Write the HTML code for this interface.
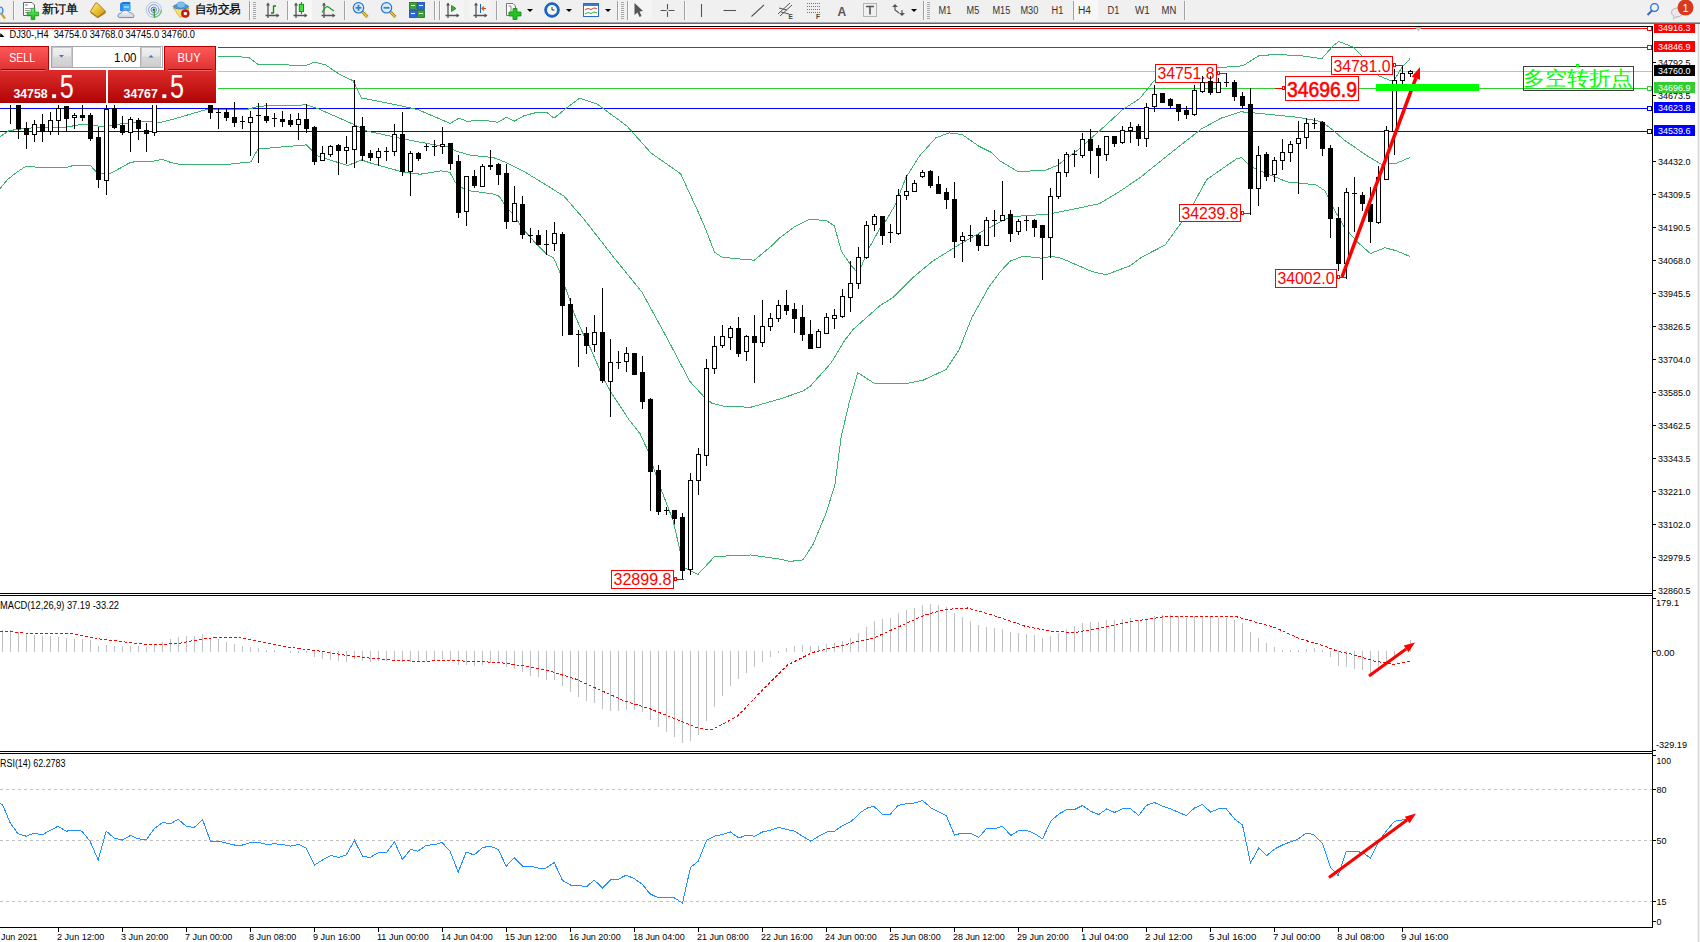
<!DOCTYPE html>
<html><head><meta charset="utf-8"><style>
html,body{margin:0;padding:0;width:1700px;height:942px;overflow:hidden;background:#fff;font-family:"Liberation Sans", sans-serif;}
.abs{position:absolute}
</style></head><body>
<div class="abs" style="left:0;top:0;width:1700px;height:942px;">
<svg width="1700" height="942" style="position:absolute;left:0;top:0"><defs><clipPath id="cm"><rect x="0" y="27" width="1652" height="566"/></clipPath><clipPath id="cmacd"><rect x="0" y="596" width="1652" height="155"/></clipPath><clipPath id="crsi"><rect x="0" y="754" width="1652" height="173"/></clipPath></defs><g clip-path="url(#cm)"><g shape-rendering="crispEdges" stroke-width="1"><line x1="0" y1="28.5" x2="1647" y2="28.5" stroke="#ff0000"/><line x1="0" y1="47.5" x2="1647" y2="47.5" stroke="#ff0000"/><line x1="0" y1="71.5" x2="1652" y2="71.5" stroke="#c0c0c0"/><line x1="0" y1="88.5" x2="1647" y2="88.5" stroke="#32cd32"/><line x1="0" y1="108.5" x2="1647" y2="108.5" stroke="#0000ff"/><line x1="0" y1="131.5" x2="1647" y2="131.5" stroke="#0000ff"/></g><rect x="1647.5" y="26.5" width="4" height="4" fill="#fff" stroke="#ff0000" shape-rendering="crispEdges"/><rect x="1647.5" y="45.5" width="4" height="4" fill="#fff" stroke="#ff0000" shape-rendering="crispEdges"/><rect x="1647.5" y="86.5" width="4" height="4" fill="#fff" stroke="#32cd32" shape-rendering="crispEdges"/><rect x="1647.5" y="106.5" width="4" height="4" fill="#fff" stroke="#0000ff" shape-rendering="crispEdges"/><rect x="1647.5" y="129.5" width="4" height="4" fill="#fff" stroke="#0000ff" shape-rendering="crispEdges"/><polyline points="216.0,56.6 248.4,57.1 258.0,64.3 306.3,65.4 314.6,62.1 325.6,64.8 339.5,74.5 353.2,80.8 361.5,98.0 386.4,102.9 402.9,106.2 418.9,110.0 450.0,123.4 459.0,118.2 466.4,121.1 487.2,120.7 497.6,122.2 506.5,117.4 514.7,121.1 524.3,115.6 537.7,112.2 546.6,112.2 554.0,118.2 564.0,110.0 579.5,98.2 597.4,104.2 627.1,126.2 650.9,152.9 680.6,173.7 698.4,212.4 706.0,230.0 714.4,252.0 722.0,257.2 739.0,258.9 754.4,260.2 771.3,246.1 780.0,237.7 794.7,226.7 809.3,219.3 826.4,220.5 834.3,225.8 841.5,251.6 850.0,264.0 855.8,270.7 861.5,265.9 869.2,247.8 879.7,228.7 885.4,221.5 895.9,203.8 905.7,178.0 919.5,155.9 935.9,137.8 949.0,132.9 962.2,134.5 978.7,146.1 991.8,152.6 1000.0,161.0 1017.2,171.2 1044.0,170.8 1057.4,165.4 1076.5,151.1 1099.4,131.0 1122.3,110.0 1140.0,98.3 1154.4,80.3 1168.9,70.0 1206.6,68.5 1242.8,65.8 1258.7,55.8 1275.9,54.4 1301.7,55.8 1321.7,58.7 1333.2,45.8 1338.9,41.5 1353.2,47.2 1364.7,58.7 1379.0,75.9 1393.4,81.6 1402.0,67.3 1410.0,58.7" fill="none" stroke="#3cb371" stroke-width="1" shape-rendering="crispEdges"/><polyline points="0.0,136.7 9.2,130.6 26.0,128.3 45.9,127.2 65.8,127.2 82.6,124.2 91.8,125.2 104.0,126.8 116.3,124.5 130.0,122.9 145.3,121.4 159.1,122.6 168.2,120.6 206.5,109.5 247.8,109.2 260.0,106.1 306.3,104.9 317.4,108.4 353.2,124.2 367.0,131.1 404.0,139.0 430.7,144.2 448.6,147.1 457.5,151.6 470.9,155.3 493.1,157.5 505.0,162.0 522.9,170.9 545.1,184.3 564.0,196.2 584.6,220.0 614.4,258.2 642.0,292.2 667.5,339.0 690.0,381.5 703.5,396.3 711.8,403.2 722.9,406.0 750.5,407.3 780.0,399.0 803.0,391.0 810.6,385.9 831.0,363.0 845.0,340.0 853.3,329.3 880.0,305.6 893.2,297.4 912.9,277.6 932.6,261.2 959.0,244.7 982.0,231.6 1010.0,216.8 1047.8,214.2 1076.5,208.5 1099.4,203.7 1118.5,192.2 1140.0,177.7 1158.0,163.2 1176.0,148.8 1201.3,129.0 1221.2,118.1 1241.0,111.8 1251.8,112.7 1298.8,117.4 1321.7,121.7 1333.2,130.3 1344.6,140.3 1367.6,156.1 1381.9,164.7 1396.2,163.3 1410.0,157.5" fill="none" stroke="#3cb371" stroke-width="1" shape-rendering="crispEdges"/><polyline points="0.0,188.7 7.6,179.5 15.3,173.4 26.0,166.1 38.2,167.3 67.3,167.3 73.4,165.4 90.2,165.4 97.9,173.4 110.1,173.4 116.3,170.3 130.0,162.7 137.6,161.2 152.9,161.2 162.1,159.3 171.3,162.7 178.9,164.2 229.4,164.2 250.8,161.9 258.0,149.0 306.3,144.9 317.4,155.9 347.7,165.6 361.5,160.0 369.8,162.8 404.0,172.4 420.3,174.2 441.1,170.9 450.0,172.4 454.5,181.3 460.5,187.3 470.9,191.0 493.1,193.9 499.1,196.2 505.0,205.1 514.0,215.5 522.9,228.9 534.7,242.2 546.4,254.0 553.8,258.2 560.2,273.1 566.6,291.2 575.0,315.6 582.5,332.6 591.0,349.6 597.4,364.5 603.7,379.3 612.2,394.2 620.7,407.0 629.2,420.0 640.0,433.6 648.3,451.5 659.3,484.7 673.1,520.6 681.4,556.5 684.2,567.5 698.0,574.4 714.6,556.5 750.5,555.0 780.0,559.2 790.2,561.4 803.0,559.9 813.2,544.1 825.9,513.5 834.8,485.4 841.2,436.9 848.9,403.8 857.8,372.7 874.4,383.4 906.3,383.6 922.8,380.3 945.8,369.7 959.0,350.0 972.1,317.1 988.6,287.5 1000.0,272.0 1010.0,261.2 1022.9,256.2 1042.0,258.2 1051.6,256.2 1061.2,258.2 1091.8,271.5 1106.1,274.8 1130.0,265.8 1141.5,257.2 1165.0,245.1 1188.8,212.4 1206.6,179.7 1236.4,158.9 1241.5,157.5 1250.0,166.1 1258.7,170.4 1287.3,181.9 1316.0,184.8 1324.6,190.5 1333.2,207.7 1344.6,227.8 1359.0,243.5 1370.4,253.6 1384.8,247.8 1396.2,250.7 1410.0,256.4" fill="none" stroke="#3cb371" stroke-width="1" shape-rendering="crispEdges"/><g font-family='"Liberation Sans", sans-serif'><rect x="1155.5" y="64.5" width="61" height="18" fill="#fff" stroke="#ff0000" shape-rendering="crispEdges"/><text x="1186.0" y="79.3" font-size="16" fill="#ff0000" font-weight="normal" text-anchor="middle" textLength="57" lengthAdjust="spacingAndGlyphs">34751.8</text><polyline points="1217,73.5 1226.5,73.5 1226.5,76" fill="none" stroke="#ff0000" shape-rendering="crispEdges"/><rect x="1217.5" y="71.5" width="2" height="3" fill="#fff" stroke="#ff0000" shape-rendering="crispEdges"/><rect x="1179.5" y="204.5" width="61" height="17" fill="#fff" stroke="#ff0000" shape-rendering="crispEdges"/><text x="1210.0" y="218.8" font-size="16" fill="#ff0000" font-weight="normal" text-anchor="middle" textLength="57" lengthAdjust="spacingAndGlyphs">34239.8</text><polyline points="1241,213.5 1250.5,213.5" fill="none" stroke="#ff0000" shape-rendering="crispEdges"/><rect x="1241.5" y="211.5" width="2" height="3" fill="#fff" stroke="#ff0000" shape-rendering="crispEdges"/><rect x="1275.5" y="269.5" width="61" height="18" fill="#fff" stroke="#ff0000" shape-rendering="crispEdges"/><text x="1306.0" y="284.3" font-size="16" fill="#ff0000" font-weight="normal" text-anchor="middle" textLength="57" lengthAdjust="spacingAndGlyphs">34002.0</text><polyline points="1337,277.5 1346.5,277.5" fill="none" stroke="#ff0000" shape-rendering="crispEdges"/><rect x="1337.5" y="275.5" width="2" height="3" fill="#fff" stroke="#ff0000" shape-rendering="crispEdges"/><rect x="1331.5" y="56.5" width="61" height="18" fill="#fff" stroke="#ff0000" shape-rendering="crispEdges"/><text x="1362.0" y="71.6" font-size="17" fill="#ff0000" font-weight="normal" text-anchor="middle" textLength="57" lengthAdjust="spacingAndGlyphs">34781.0</text><polyline points="1393,65.5 1402.5,65.5" fill="none" stroke="#ff0000" shape-rendering="crispEdges"/><rect x="1393.5" y="63.5" width="2" height="3" fill="#fff" stroke="#ff0000" shape-rendering="crispEdges"/><rect x="1285.5" y="76.5" width="73" height="24" fill="#fff" stroke="#ff0000" shape-rendering="crispEdges"/><text x="1322.0" y="96.6" font-size="22.5" fill="#ff0000" font-weight="normal" stroke="#ff0000" stroke-width="0.6" text-anchor="middle" textLength="70" lengthAdjust="spacingAndGlyphs">34696.9</text><line x1="1275" y1="88.5" x2="1285" y2="88.5" stroke="#ff0000" shape-rendering="crispEdges"/><rect x="1282.5" y="86.5" width="2" height="3" fill="#fff" stroke="#ff0000" shape-rendering="crispEdges"/><rect x="611.5" y="570.5" width="62" height="18" fill="#fff" stroke="#ff0000" shape-rendering="crispEdges"/><text x="642.5" y="585.3" font-size="16" fill="#ff0000" font-weight="normal" text-anchor="middle" textLength="58" lengthAdjust="spacingAndGlyphs">32899.8</text><polyline points="674,579.5 683.5,579.5" fill="none" stroke="#ff0000" shape-rendering="crispEdges"/><rect x="674.5" y="577.5" width="2" height="3" fill="#fff" stroke="#ff0000" shape-rendering="crispEdges"/></g><g shape-rendering="crispEdges"><rect x="10" y="104" width="1" height="20" fill="#000"/><rect x="18" y="103" width="1" height="36" fill="#000"/><rect x="16" y="103" width="5" height="26" fill="#000"/><rect x="26" y="122" width="1" height="27" fill="#000"/><rect x="24" y="128" width="5" height="7" fill="#000"/><rect x="34" y="120" width="1" height="22" fill="#000"/><rect x="32.5" y="124.5" width="4" height="10" fill="#fff" stroke="#000" stroke-width="1"/><rect x="42" y="114" width="1" height="28" fill="#000"/><rect x="40" y="124" width="5" height="8" fill="#000"/><rect x="50" y="112" width="1" height="23" fill="#000"/><rect x="48.5" y="120.5" width="4" height="11" fill="#fff" stroke="#000" stroke-width="1"/><rect x="58" y="105" width="1" height="30" fill="#000"/><rect x="56.5" y="108.5" width="4" height="12" fill="#fff" stroke="#000" stroke-width="1"/><rect x="66" y="106" width="1" height="26" fill="#000"/><rect x="64" y="106" width="5" height="13" fill="#000"/><rect x="74" y="113" width="1" height="16" fill="#000"/><rect x="72.5" y="115.5" width="4" height="2" fill="#fff" stroke="#000" stroke-width="1"/><rect x="82" y="105" width="1" height="16" fill="#000"/><rect x="80" y="115" width="5" height="3" fill="#000"/><rect x="90" y="113" width="1" height="28" fill="#000"/><rect x="88" y="115" width="5" height="24" fill="#000"/><rect x="98" y="127" width="1" height="61" fill="#000"/><rect x="96" y="137" width="5" height="43" fill="#000"/><rect x="106" y="103" width="1" height="92" fill="#000"/><rect x="104.5" y="109.5" width="4" height="71" fill="#fff" stroke="#000" stroke-width="1"/><rect x="114" y="103" width="1" height="26" fill="#000"/><rect x="112" y="108" width="5" height="20" fill="#000"/><rect x="122" y="116" width="1" height="19" fill="#000"/><rect x="120" y="125" width="5" height="8" fill="#000"/><rect x="130" y="117" width="1" height="35" fill="#000"/><rect x="128.5" y="119.5" width="4" height="13" fill="#fff" stroke="#000" stroke-width="1"/><rect x="138" y="118" width="1" height="22" fill="#000"/><rect x="136" y="120" width="5" height="9" fill="#000"/><rect x="146" y="123" width="1" height="29" fill="#000"/><rect x="144" y="130" width="5" height="4" fill="#000"/><rect x="154" y="103" width="1" height="33" fill="#000"/><rect x="152.5" y="103.5" width="4" height="29" fill="#fff" stroke="#000" stroke-width="1"/><rect x="210" y="103" width="1" height="16" fill="#000"/><rect x="208" y="103" width="5" height="10" fill="#000"/><rect x="218" y="108" width="1" height="21" fill="#000"/><rect x="216" y="112" width="5" height="1" fill="#000"/><rect x="226" y="109" width="1" height="12" fill="#000"/><rect x="224" y="112" width="5" height="6" fill="#000"/><rect x="234" y="102" width="1" height="25" fill="#000"/><rect x="232" y="117" width="5" height="6" fill="#000"/><rect x="242" y="116" width="1" height="13" fill="#000"/><rect x="240" y="121" width="5" height="1" fill="#000"/><rect x="250" y="111" width="1" height="45" fill="#000"/><rect x="248.5" y="117.5" width="4" height="5" fill="#fff" stroke="#000" stroke-width="1"/><rect x="258" y="103" width="1" height="60" fill="#000"/><rect x="256" y="115" width="5" height="1" fill="#000"/><rect x="266" y="103" width="1" height="20" fill="#000"/><rect x="264" y="116" width="5" height="5" fill="#000"/><rect x="274" y="113" width="1" height="14" fill="#000"/><rect x="272" y="118" width="5" height="1" fill="#000"/><rect x="282" y="111" width="1" height="16" fill="#000"/><rect x="280" y="119" width="5" height="3" fill="#000"/><rect x="290" y="114" width="1" height="13" fill="#000"/><rect x="288" y="120" width="5" height="5" fill="#000"/><rect x="298" y="113" width="1" height="27" fill="#000"/><rect x="296.5" y="119.5" width="4" height="5" fill="#fff" stroke="#000" stroke-width="1"/><rect x="306" y="104" width="1" height="29" fill="#000"/><rect x="304" y="119" width="5" height="10" fill="#000"/><rect x="314" y="126" width="1" height="39" fill="#000"/><rect x="312" y="127" width="5" height="35" fill="#000"/><rect x="322" y="146" width="1" height="15" fill="#000"/><rect x="320.5" y="153.5" width="4" height="7" fill="#fff" stroke="#000" stroke-width="1"/><rect x="330" y="145" width="1" height="12" fill="#000"/><rect x="328.5" y="146.5" width="4" height="8" fill="#fff" stroke="#000" stroke-width="1"/><rect x="338" y="144" width="1" height="31" fill="#000"/><rect x="336" y="145" width="5" height="6" fill="#000"/><rect x="346" y="136" width="1" height="28" fill="#000"/><rect x="344.5" y="147.5" width="4" height="3" fill="#fff" stroke="#000" stroke-width="1"/><rect x="354" y="80" width="1" height="88" fill="#000"/><rect x="352.5" y="126.5" width="4" height="23" fill="#fff" stroke="#000" stroke-width="1"/><rect x="362" y="117" width="1" height="44" fill="#000"/><rect x="360" y="126" width="5" height="30" fill="#000"/><rect x="370" y="150" width="1" height="11" fill="#000"/><rect x="368" y="153" width="5" height="5" fill="#000"/><rect x="378" y="148" width="1" height="18" fill="#000"/><rect x="376.5" y="151.5" width="4" height="6" fill="#fff" stroke="#000" stroke-width="1"/><rect x="386" y="147" width="1" height="14" fill="#000"/><rect x="384" y="151" width="5" height="1" fill="#000"/><rect x="394" y="124" width="1" height="32" fill="#000"/><rect x="392.5" y="134.5" width="4" height="17" fill="#fff" stroke="#000" stroke-width="1"/><rect x="402" y="112" width="1" height="64" fill="#000"/><rect x="400" y="134" width="5" height="38" fill="#000"/><rect x="410" y="151" width="1" height="45" fill="#000"/><rect x="408.5" y="153.5" width="4" height="18" fill="#fff" stroke="#000" stroke-width="1"/><rect x="418" y="152" width="1" height="9" fill="#000"/><rect x="416" y="153" width="5" height="6" fill="#000"/><rect x="426" y="144" width="1" height="7" fill="#000"/><rect x="424" y="146" width="5" height="1" fill="#000"/><rect x="434" y="140" width="1" height="16" fill="#000"/><rect x="432" y="146" width="5" height="1" fill="#000"/><rect x="442" y="127" width="1" height="27" fill="#000"/><rect x="440.5" y="144.5" width="4" height="2" fill="#fff" stroke="#000" stroke-width="1"/><rect x="450" y="143" width="1" height="27" fill="#000"/><rect x="448" y="143" width="5" height="21" fill="#000"/><rect x="458" y="155" width="1" height="63" fill="#000"/><rect x="456" y="161" width="5" height="52" fill="#000"/><rect x="466" y="176" width="1" height="50" fill="#000"/><rect x="464.5" y="176.5" width="4" height="35" fill="#fff" stroke="#000" stroke-width="1"/><rect x="474" y="170" width="1" height="18" fill="#000"/><rect x="472" y="176" width="5" height="10" fill="#000"/><rect x="482" y="164" width="1" height="23" fill="#000"/><rect x="480.5" y="166.5" width="4" height="20" fill="#fff" stroke="#000" stroke-width="1"/><rect x="490" y="150" width="1" height="20" fill="#000"/><rect x="488" y="165" width="5" height="2" fill="#000"/><rect x="498" y="163" width="1" height="22" fill="#000"/><rect x="496" y="164" width="5" height="11" fill="#000"/><rect x="506" y="164" width="1" height="65" fill="#000"/><rect x="504" y="173" width="5" height="49" fill="#000"/><rect x="514" y="186" width="1" height="36" fill="#000"/><rect x="512.5" y="203.5" width="4" height="18" fill="#fff" stroke="#000" stroke-width="1"/><rect x="522" y="196" width="1" height="43" fill="#000"/><rect x="520" y="204" width="5" height="31" fill="#000"/><rect x="530" y="228" width="1" height="15" fill="#000"/><rect x="528" y="235" width="5" height="1" fill="#000"/><rect x="538" y="230" width="1" height="15" fill="#000"/><rect x="536" y="235" width="5" height="10" fill="#000"/><rect x="546" y="230" width="1" height="25" fill="#000"/><rect x="544" y="244" width="5" height="1" fill="#000"/><rect x="554" y="222" width="1" height="29" fill="#000"/><rect x="552.5" y="233.5" width="4" height="10" fill="#fff" stroke="#000" stroke-width="1"/><rect x="562" y="232" width="1" height="104" fill="#000"/><rect x="560" y="234" width="5" height="72" fill="#000"/><rect x="570" y="298" width="1" height="37" fill="#000"/><rect x="568" y="304" width="5" height="31" fill="#000"/><rect x="578" y="330" width="1" height="37" fill="#000"/><rect x="576" y="334" width="5" height="1" fill="#000"/><rect x="586" y="327" width="1" height="27" fill="#000"/><rect x="584" y="333" width="5" height="13" fill="#000"/><rect x="594" y="315" width="1" height="37" fill="#000"/><rect x="592.5" y="332.5" width="4" height="12" fill="#fff" stroke="#000" stroke-width="1"/><rect x="602" y="288" width="1" height="95" fill="#000"/><rect x="600" y="332" width="5" height="49" fill="#000"/><rect x="610" y="339" width="1" height="78" fill="#000"/><rect x="608.5" y="362.5" width="4" height="19" fill="#fff" stroke="#000" stroke-width="1"/><rect x="618" y="351" width="1" height="18" fill="#000"/><rect x="616" y="362" width="5" height="1" fill="#000"/><rect x="626" y="347" width="1" height="25" fill="#000"/><rect x="624.5" y="353.5" width="4" height="8" fill="#fff" stroke="#000" stroke-width="1"/><rect x="634" y="353" width="1" height="22" fill="#000"/><rect x="632" y="353" width="5" height="22" fill="#000"/><rect x="642" y="356" width="1" height="53" fill="#000"/><rect x="640" y="372" width="5" height="30" fill="#000"/><rect x="650" y="398" width="1" height="113" fill="#000"/><rect x="648" y="399" width="5" height="73" fill="#000"/><rect x="658" y="465" width="1" height="50" fill="#000"/><rect x="656" y="470" width="5" height="42" fill="#000"/><rect x="666" y="507" width="1" height="8" fill="#000"/><rect x="664" y="510" width="5" height="1" fill="#000"/><rect x="674" y="510" width="1" height="14" fill="#000"/><rect x="672" y="510" width="5" height="9" fill="#000"/><rect x="682" y="513" width="1" height="66" fill="#000"/><rect x="680" y="517" width="5" height="54" fill="#000"/><rect x="690" y="473" width="1" height="102" fill="#000"/><rect x="688.5" y="480.5" width="4" height="89" fill="#fff" stroke="#000" stroke-width="1"/><rect x="698" y="448" width="1" height="47" fill="#000"/><rect x="696.5" y="454.5" width="4" height="26" fill="#fff" stroke="#000" stroke-width="1"/><rect x="706" y="359" width="1" height="107" fill="#000"/><rect x="704.5" y="368.5" width="4" height="87" fill="#fff" stroke="#000" stroke-width="1"/><rect x="714" y="336" width="1" height="38" fill="#000"/><rect x="712.5" y="346.5" width="4" height="22" fill="#fff" stroke="#000" stroke-width="1"/><rect x="722" y="325" width="1" height="23" fill="#000"/><rect x="720.5" y="336.5" width="4" height="9" fill="#fff" stroke="#000" stroke-width="1"/><rect x="730" y="326" width="1" height="24" fill="#000"/><rect x="728.5" y="328.5" width="4" height="9" fill="#fff" stroke="#000" stroke-width="1"/><rect x="738" y="317" width="1" height="40" fill="#000"/><rect x="736" y="328" width="5" height="26" fill="#000"/><rect x="746" y="335" width="1" height="26" fill="#000"/><rect x="744.5" y="336.5" width="4" height="15" fill="#fff" stroke="#000" stroke-width="1"/><rect x="754" y="315" width="1" height="68" fill="#000"/><rect x="752" y="336" width="5" height="7" fill="#000"/><rect x="762" y="300" width="1" height="47" fill="#000"/><rect x="760.5" y="326.5" width="4" height="16" fill="#fff" stroke="#000" stroke-width="1"/><rect x="770" y="313" width="1" height="18" fill="#000"/><rect x="768.5" y="318.5" width="4" height="8" fill="#fff" stroke="#000" stroke-width="1"/><rect x="778" y="300" width="1" height="22" fill="#000"/><rect x="776.5" y="305.5" width="4" height="13" fill="#fff" stroke="#000" stroke-width="1"/><rect x="786" y="290" width="1" height="25" fill="#000"/><rect x="784" y="305" width="5" height="6" fill="#000"/><rect x="794" y="303" width="1" height="30" fill="#000"/><rect x="792" y="309" width="5" height="10" fill="#000"/><rect x="802" y="305" width="1" height="36" fill="#000"/><rect x="800" y="317" width="5" height="18" fill="#000"/><rect x="810" y="320" width="1" height="29" fill="#000"/><rect x="808" y="334" width="5" height="15" fill="#000"/><rect x="818" y="329" width="1" height="19" fill="#000"/><rect x="816.5" y="331.5" width="4" height="16" fill="#fff" stroke="#000" stroke-width="1"/><rect x="826" y="313" width="1" height="21" fill="#000"/><rect x="824.5" y="317.5" width="4" height="16" fill="#fff" stroke="#000" stroke-width="1"/><rect x="834" y="309" width="1" height="20" fill="#000"/><rect x="832.5" y="315.5" width="4" height="3" fill="#fff" stroke="#000" stroke-width="1"/><rect x="842" y="289" width="1" height="29" fill="#000"/><rect x="840.5" y="296.5" width="4" height="20" fill="#fff" stroke="#000" stroke-width="1"/><rect x="850" y="261" width="1" height="51" fill="#000"/><rect x="848.5" y="283.5" width="4" height="14" fill="#fff" stroke="#000" stroke-width="1"/><rect x="858" y="247" width="1" height="42" fill="#000"/><rect x="856.5" y="257.5" width="4" height="26" fill="#fff" stroke="#000" stroke-width="1"/><rect x="866" y="221" width="1" height="38" fill="#000"/><rect x="864.5" y="225.5" width="4" height="32" fill="#fff" stroke="#000" stroke-width="1"/><rect x="874" y="214" width="1" height="17" fill="#000"/><rect x="872.5" y="216.5" width="4" height="8" fill="#fff" stroke="#000" stroke-width="1"/><rect x="882" y="216" width="1" height="29" fill="#000"/><rect x="880" y="216" width="5" height="20" fill="#000"/><rect x="890" y="224" width="1" height="19" fill="#000"/><rect x="888" y="232" width="5" height="1" fill="#000"/><rect x="898" y="189" width="1" height="46" fill="#000"/><rect x="896.5" y="195.5" width="4" height="38" fill="#fff" stroke="#000" stroke-width="1"/><rect x="906" y="175" width="1" height="25" fill="#000"/><rect x="904.5" y="191.5" width="4" height="4" fill="#fff" stroke="#000" stroke-width="1"/><rect x="914" y="180" width="1" height="12" fill="#000"/><rect x="912.5" y="183.5" width="4" height="8" fill="#fff" stroke="#000" stroke-width="1"/><rect x="922" y="170" width="1" height="8" fill="#000"/><rect x="920.5" y="172.5" width="4" height="4" fill="#fff" stroke="#000" stroke-width="1"/><rect x="930" y="170" width="1" height="18" fill="#000"/><rect x="928" y="171" width="5" height="15" fill="#000"/><rect x="938" y="176" width="1" height="18" fill="#000"/><rect x="936" y="184" width="5" height="10" fill="#000"/><rect x="946" y="188" width="1" height="21" fill="#000"/><rect x="944" y="192" width="5" height="8" fill="#000"/><rect x="954" y="182" width="1" height="76" fill="#000"/><rect x="952" y="199" width="5" height="43" fill="#000"/><rect x="962" y="232" width="1" height="30" fill="#000"/><rect x="960.5" y="236.5" width="4" height="4" fill="#fff" stroke="#000" stroke-width="1"/><rect x="970" y="225" width="1" height="17" fill="#000"/><rect x="968" y="235" width="5" height="1" fill="#000"/><rect x="978" y="234" width="1" height="17" fill="#000"/><rect x="976" y="235" width="5" height="11" fill="#000"/><rect x="986" y="217" width="1" height="29" fill="#000"/><rect x="984.5" y="220.5" width="4" height="25" fill="#fff" stroke="#000" stroke-width="1"/><rect x="994" y="210" width="1" height="27" fill="#000"/><rect x="992" y="220" width="5" height="1" fill="#000"/><rect x="1002" y="181" width="1" height="40" fill="#000"/><rect x="1000.5" y="215.5" width="4" height="5" fill="#fff" stroke="#000" stroke-width="1"/><rect x="1010" y="210" width="1" height="32" fill="#000"/><rect x="1008" y="214" width="5" height="20" fill="#000"/><rect x="1018" y="219" width="1" height="16" fill="#000"/><rect x="1016.5" y="221.5" width="4" height="10" fill="#fff" stroke="#000" stroke-width="1"/><rect x="1026" y="216" width="1" height="15" fill="#000"/><rect x="1024" y="220" width="5" height="1" fill="#000"/><rect x="1034" y="219" width="1" height="18" fill="#000"/><rect x="1032" y="220" width="5" height="8" fill="#000"/><rect x="1042" y="225" width="1" height="55" fill="#000"/><rect x="1040" y="225" width="5" height="13" fill="#000"/><rect x="1050" y="188" width="1" height="70" fill="#000"/><rect x="1048.5" y="196.5" width="4" height="41" fill="#fff" stroke="#000" stroke-width="1"/><rect x="1058" y="159" width="1" height="40" fill="#000"/><rect x="1056.5" y="172.5" width="4" height="24" fill="#fff" stroke="#000" stroke-width="1"/><rect x="1066" y="152" width="1" height="25" fill="#000"/><rect x="1064.5" y="154.5" width="4" height="18" fill="#fff" stroke="#000" stroke-width="1"/><rect x="1074" y="150" width="1" height="17" fill="#000"/><rect x="1072" y="154" width="5" height="1" fill="#000"/><rect x="1082" y="133" width="1" height="25" fill="#000"/><rect x="1080.5" y="139.5" width="4" height="16" fill="#fff" stroke="#000" stroke-width="1"/><rect x="1090" y="129" width="1" height="45" fill="#000"/><rect x="1088" y="139" width="5" height="12" fill="#000"/><rect x="1098" y="145" width="1" height="33" fill="#000"/><rect x="1096" y="148" width="5" height="8" fill="#000"/><rect x="1106" y="136" width="1" height="25" fill="#000"/><rect x="1104.5" y="136.5" width="4" height="18" fill="#fff" stroke="#000" stroke-width="1"/><rect x="1114" y="136" width="1" height="11" fill="#000"/><rect x="1112" y="136" width="5" height="8" fill="#000"/><rect x="1122" y="126" width="1" height="18" fill="#000"/><rect x="1120.5" y="130.5" width="4" height="12" fill="#fff" stroke="#000" stroke-width="1"/><rect x="1130" y="122" width="1" height="21" fill="#000"/><rect x="1128.5" y="127.5" width="4" height="3" fill="#fff" stroke="#000" stroke-width="1"/><rect x="1138" y="124" width="1" height="22" fill="#000"/><rect x="1136" y="126" width="5" height="13" fill="#000"/><rect x="1146" y="103" width="1" height="44" fill="#000"/><rect x="1144.5" y="107.5" width="4" height="31" fill="#fff" stroke="#000" stroke-width="1"/><rect x="1154" y="85" width="1" height="27" fill="#000"/><rect x="1152.5" y="94.5" width="4" height="12" fill="#fff" stroke="#000" stroke-width="1"/><rect x="1162" y="93" width="1" height="10" fill="#000"/><rect x="1160" y="93" width="5" height="10" fill="#000"/><rect x="1170" y="98" width="1" height="10" fill="#000"/><rect x="1168" y="99" width="5" height="7" fill="#000"/><rect x="1178" y="104" width="1" height="17" fill="#000"/><rect x="1176" y="104" width="5" height="8" fill="#000"/><rect x="1186" y="106" width="1" height="13" fill="#000"/><rect x="1184" y="110" width="5" height="5" fill="#000"/><rect x="1194" y="85" width="1" height="31" fill="#000"/><rect x="1192.5" y="90.5" width="4" height="24" fill="#fff" stroke="#000" stroke-width="1"/><rect x="1202" y="76" width="1" height="17" fill="#000"/><rect x="1200.5" y="82.5" width="4" height="9" fill="#fff" stroke="#000" stroke-width="1"/><rect x="1210" y="76" width="1" height="19" fill="#000"/><rect x="1208" y="81" width="5" height="12" fill="#000"/><rect x="1218" y="78" width="1" height="15" fill="#000"/><rect x="1216.5" y="82.5" width="4" height="10" fill="#fff" stroke="#000" stroke-width="1"/><rect x="1226" y="73" width="1" height="14" fill="#000"/><rect x="1224" y="82" width="5" height="1" fill="#000"/><rect x="1234" y="80" width="1" height="21" fill="#000"/><rect x="1232" y="82" width="5" height="15" fill="#000"/><rect x="1242" y="92" width="1" height="17" fill="#000"/><rect x="1240" y="96" width="5" height="10" fill="#000"/><rect x="1250" y="88" width="1" height="127" fill="#000"/><rect x="1248" y="104" width="5" height="85" fill="#000"/><rect x="1258" y="146" width="1" height="60" fill="#000"/><rect x="1256.5" y="155.5" width="4" height="33" fill="#fff" stroke="#000" stroke-width="1"/><rect x="1266" y="152" width="1" height="29" fill="#000"/><rect x="1264" y="154" width="5" height="23" fill="#000"/><rect x="1274" y="157" width="1" height="25" fill="#000"/><rect x="1272.5" y="160.5" width="4" height="14" fill="#fff" stroke="#000" stroke-width="1"/><rect x="1282" y="139" width="1" height="31" fill="#000"/><rect x="1280.5" y="152.5" width="4" height="8" fill="#fff" stroke="#000" stroke-width="1"/><rect x="1290" y="141" width="1" height="21" fill="#000"/><rect x="1288.5" y="144.5" width="4" height="8" fill="#fff" stroke="#000" stroke-width="1"/><rect x="1298" y="121" width="1" height="73" fill="#000"/><rect x="1296.5" y="138.5" width="4" height="5" fill="#fff" stroke="#000" stroke-width="1"/><rect x="1306" y="118" width="1" height="31" fill="#000"/><rect x="1304.5" y="123.5" width="4" height="14" fill="#fff" stroke="#000" stroke-width="1"/><rect x="1314" y="118" width="1" height="11" fill="#000"/><rect x="1312" y="123" width="5" height="1" fill="#000"/><rect x="1322" y="121" width="1" height="35" fill="#000"/><rect x="1320" y="122" width="5" height="27" fill="#000"/><rect x="1330" y="145" width="1" height="93" fill="#000"/><rect x="1328" y="148" width="5" height="71" fill="#000"/><rect x="1338" y="207" width="1" height="64" fill="#000"/><rect x="1336" y="218" width="5" height="46" fill="#000"/><rect x="1346" y="188" width="1" height="91" fill="#000"/><rect x="1344.5" y="192.5" width="4" height="71" fill="#fff" stroke="#000" stroke-width="1"/><rect x="1354" y="177" width="1" height="55" fill="#000"/><rect x="1352" y="193" width="5" height="1" fill="#000"/><rect x="1362" y="192" width="1" height="19" fill="#000"/><rect x="1360" y="195" width="5" height="9" fill="#000"/><rect x="1370" y="187" width="1" height="56" fill="#000"/><rect x="1368" y="204" width="5" height="18" fill="#000"/><rect x="1378" y="166" width="1" height="58" fill="#000"/><rect x="1376.5" y="177.5" width="4" height="45" fill="#fff" stroke="#000" stroke-width="1"/><rect x="1386" y="126" width="1" height="54" fill="#000"/><rect x="1384.5" y="130.5" width="4" height="49" fill="#fff" stroke="#000" stroke-width="1"/><rect x="1394" y="69" width="1" height="86" fill="#000"/><rect x="1392.5" y="80.5" width="4" height="51" fill="#fff" stroke="#000" stroke-width="1"/><rect x="1402" y="66" width="1" height="19" fill="#000"/><rect x="1400.5" y="73.5" width="4" height="7" fill="#fff" stroke="#000" stroke-width="1"/><rect x="1410" y="70" width="1" height="7" fill="#000"/><rect x="1408.5" y="71.5" width="4" height="2" fill="#fff" stroke="#000" stroke-width="1"/></g><line x1="1342" y1="277" x2="1415.8" y2="78.2" stroke="#ff0000" stroke-width="3.5"/><polygon points="1420,67 1420.0,79.8 1411.6,76.7" fill="#ff0000"/><rect x="1523.5" y="66.5" width="110" height="24" fill="none" stroke="#404040" stroke-width="1" shape-rendering="crispEdges"/><rect x="1576.5" y="64.5" width="2" height="2" fill="none" stroke="#00ff00" stroke-width="1" shape-rendering="crispEdges"/><text x="1577.5" y="84.8" font-family='"Liberation Sans", sans-serif' font-size="19.5" font-weight="300" fill="#00ff00" text-anchor="middle" textLength="110" lengthAdjust="spacingAndGlyphs">多空转折点</text><rect x="1376" y="84" width="103" height="7" fill="#00ff00" shape-rendering="crispEdges"/><polygon points="1415,27 1422,27 1418.5,31.5" fill="#c0c0c0"/></g><g font-family='"Liberation Sans", sans-serif' fill="#000"><polygon points="0,37 4.5,37 0.5,33" fill="#000"/><text x="9.5" y="38" font-size="10" textLength="185.5" lengthAdjust="spacingAndGlyphs">DJ30-,H4&#160; 34754.0 34768.0 34745.0 34760.0</text></g><g shape-rendering="crispEdges" stroke="#000" stroke-width="1" fill="none"><line x1="0" y1="26.5" x2="1652" y2="26.5"/><line x1="0" y1="593.5" x2="1652.5" y2="593.5"/><line x1="0" y1="595.5" x2="1652.5" y2="595.5"/><line x1="0" y1="751.5" x2="1652.5" y2="751.5"/><line x1="0" y1="753.5" x2="1652.5" y2="753.5"/><line x1="0" y1="927.5" x2="1652.5" y2="927.5"/><line x1="1652.5" y1="26" x2="1652.5" y2="928"/></g><g font-family='"Liberation Sans", sans-serif' font-size="9.5" fill="#000"><rect x="1653" y="62" width="3" height="1" fill="#000" shape-rendering="crispEdges"/><text x="1658" y="66" textLength="32.5" lengthAdjust="spacingAndGlyphs">34792.5</text><rect x="1653" y="95" width="3" height="1" fill="#000" shape-rendering="crispEdges"/><text x="1658" y="99" textLength="32.5" lengthAdjust="spacingAndGlyphs">34673.5</text><rect x="1653" y="161" width="3" height="1" fill="#000" shape-rendering="crispEdges"/><text x="1658" y="165" textLength="32.5" lengthAdjust="spacingAndGlyphs">34432.0</text><rect x="1653" y="194" width="3" height="1" fill="#000" shape-rendering="crispEdges"/><text x="1658" y="198" textLength="32.5" lengthAdjust="spacingAndGlyphs">34309.5</text><rect x="1653" y="227" width="3" height="1" fill="#000" shape-rendering="crispEdges"/><text x="1658" y="231" textLength="32.5" lengthAdjust="spacingAndGlyphs">34190.5</text><rect x="1653" y="260" width="3" height="1" fill="#000" shape-rendering="crispEdges"/><text x="1658" y="264" textLength="32.5" lengthAdjust="spacingAndGlyphs">34068.0</text><rect x="1653" y="293" width="3" height="1" fill="#000" shape-rendering="crispEdges"/><text x="1658" y="297" textLength="32.5" lengthAdjust="spacingAndGlyphs">33945.5</text><rect x="1653" y="326" width="3" height="1" fill="#000" shape-rendering="crispEdges"/><text x="1658" y="330" textLength="32.5" lengthAdjust="spacingAndGlyphs">33826.5</text><rect x="1653" y="359" width="3" height="1" fill="#000" shape-rendering="crispEdges"/><text x="1658" y="363" textLength="32.5" lengthAdjust="spacingAndGlyphs">33704.0</text><rect x="1653" y="392" width="3" height="1" fill="#000" shape-rendering="crispEdges"/><text x="1658" y="396" textLength="32.5" lengthAdjust="spacingAndGlyphs">33585.0</text><rect x="1653" y="425" width="3" height="1" fill="#000" shape-rendering="crispEdges"/><text x="1658" y="429" textLength="32.5" lengthAdjust="spacingAndGlyphs">33462.5</text><rect x="1653" y="458" width="3" height="1" fill="#000" shape-rendering="crispEdges"/><text x="1658" y="462" textLength="32.5" lengthAdjust="spacingAndGlyphs">33343.5</text><rect x="1653" y="491" width="3" height="1" fill="#000" shape-rendering="crispEdges"/><text x="1658" y="495" textLength="32.5" lengthAdjust="spacingAndGlyphs">33221.0</text><rect x="1653" y="524" width="3" height="1" fill="#000" shape-rendering="crispEdges"/><text x="1658" y="528" textLength="32.5" lengthAdjust="spacingAndGlyphs">33102.0</text><rect x="1653" y="557" width="3" height="1" fill="#000" shape-rendering="crispEdges"/><text x="1658" y="561" textLength="32.5" lengthAdjust="spacingAndGlyphs">32979.5</text><rect x="1653" y="590" width="3" height="1" fill="#000" shape-rendering="crispEdges"/><text x="1658" y="594" textLength="32.5" lengthAdjust="spacingAndGlyphs">32860.5</text></g><rect x="1654" y="22" width="41" height="11" fill="#ff0000" shape-rendering="crispEdges"/><text x="1658" y="31.2" font-family='"Liberation Sans", sans-serif' font-size="9.5" fill="#fff" textLength="32.5" lengthAdjust="spacingAndGlyphs">34916.3</text><rect x="1654" y="41" width="41" height="11" fill="#ff0000" shape-rendering="crispEdges"/><text x="1658" y="50.2" font-family='"Liberation Sans", sans-serif' font-size="9.5" fill="#fff" textLength="32.5" lengthAdjust="spacingAndGlyphs">34846.9</text><rect x="1654" y="65" width="41" height="11" fill="#000000" shape-rendering="crispEdges"/><text x="1658" y="74.2" font-family='"Liberation Sans", sans-serif' font-size="9.5" fill="#fff" textLength="32.5" lengthAdjust="spacingAndGlyphs">34760.0</text><rect x="1654" y="82" width="41" height="11" fill="#32cd32" shape-rendering="crispEdges"/><text x="1658" y="91.2" font-family='"Liberation Sans", sans-serif' font-size="9.5" fill="#fff" textLength="32.5" lengthAdjust="spacingAndGlyphs">34696.9</text><rect x="1654" y="102" width="41" height="11" fill="#0000ff" shape-rendering="crispEdges"/><text x="1658" y="111.2" font-family='"Liberation Sans", sans-serif' font-size="9.5" fill="#fff" textLength="32.5" lengthAdjust="spacingAndGlyphs">34623.8</text><rect x="1654" y="125" width="41" height="11" fill="#0000ff" shape-rendering="crispEdges"/><text x="1658" y="134.2" font-family='"Liberation Sans", sans-serif' font-size="9.5" fill="#fff" textLength="32.5" lengthAdjust="spacingAndGlyphs">34539.6</text><g clip-path="url(#cmacd)"><g shape-rendering="crispEdges" fill="#c0c0c0"><rect x="2" y="630" width="1" height="22"/><rect x="10" y="630" width="1" height="22"/><rect x="18" y="632" width="1" height="20"/><rect x="26" y="634" width="1" height="18"/><rect x="34" y="635" width="1" height="17"/><rect x="42" y="636" width="1" height="16"/><rect x="50" y="636" width="1" height="16"/><rect x="58" y="637" width="1" height="15"/><rect x="66" y="638" width="1" height="14"/><rect x="74" y="639" width="1" height="13"/><rect x="82" y="639" width="1" height="13"/><rect x="90" y="640" width="1" height="12"/><rect x="98" y="646" width="1" height="6"/><rect x="106" y="645" width="1" height="7"/><rect x="114" y="646" width="1" height="6"/><rect x="122" y="646" width="1" height="6"/><rect x="130" y="646" width="1" height="6"/><rect x="138" y="646" width="1" height="6"/><rect x="146" y="647" width="1" height="5"/><rect x="154" y="645" width="1" height="7"/><rect x="162" y="642" width="1" height="10"/><rect x="170" y="639" width="1" height="13"/><rect x="178" y="637" width="1" height="15"/><rect x="186" y="636" width="1" height="16"/><rect x="194" y="636" width="1" height="16"/><rect x="202" y="634" width="1" height="18"/><rect x="210" y="638" width="1" height="14"/><rect x="218" y="639" width="1" height="13"/><rect x="226" y="642" width="1" height="10"/><rect x="234" y="644" width="1" height="8"/><rect x="242" y="646" width="1" height="6"/><rect x="250" y="647" width="1" height="5"/><rect x="258" y="648" width="1" height="4"/><rect x="266" y="650" width="1" height="2"/><rect x="274" y="650" width="1" height="2"/><rect x="290" y="651" width="1" height="2"/><rect x="298" y="651" width="1" height="2"/><rect x="306" y="651" width="1" height="2"/><rect x="314" y="651" width="1" height="6"/><rect x="322" y="651" width="1" height="8"/><rect x="330" y="651" width="1" height="9"/><rect x="338" y="651" width="1" height="10"/><rect x="346" y="651" width="1" height="11"/><rect x="354" y="651" width="1" height="8"/><rect x="362" y="651" width="1" height="10"/><rect x="370" y="651" width="1" height="11"/><rect x="378" y="651" width="1" height="10"/><rect x="386" y="651" width="1" height="10"/><rect x="394" y="651" width="1" height="10"/><rect x="402" y="651" width="1" height="11"/><rect x="410" y="651" width="1" height="11"/><rect x="418" y="651" width="1" height="11"/><rect x="426" y="651" width="1" height="10"/><rect x="434" y="651" width="1" height="10"/><rect x="442" y="651" width="1" height="8"/><rect x="450" y="651" width="1" height="9"/><rect x="458" y="651" width="1" height="14"/><rect x="466" y="651" width="1" height="14"/><rect x="474" y="651" width="1" height="15"/><rect x="482" y="651" width="1" height="14"/><rect x="490" y="651" width="1" height="12"/><rect x="498" y="651" width="1" height="12"/><rect x="506" y="651" width="1" height="16"/><rect x="514" y="651" width="1" height="18"/><rect x="522" y="651" width="1" height="21"/><rect x="530" y="651" width="1" height="25"/><rect x="538" y="651" width="1" height="26"/><rect x="546" y="651" width="1" height="29"/><rect x="554" y="651" width="1" height="29"/><rect x="562" y="651" width="1" height="35"/><rect x="570" y="651" width="1" height="41"/><rect x="578" y="651" width="1" height="46"/><rect x="586" y="651" width="1" height="50"/><rect x="594" y="651" width="1" height="52"/><rect x="602" y="651" width="1" height="58"/><rect x="610" y="651" width="1" height="60"/><rect x="618" y="651" width="1" height="60"/><rect x="626" y="651" width="1" height="59"/><rect x="634" y="651" width="1" height="59"/><rect x="642" y="651" width="1" height="61"/><rect x="650" y="651" width="1" height="69"/><rect x="658" y="651" width="1" height="76"/><rect x="666" y="651" width="1" height="81"/><rect x="674" y="651" width="1" height="86"/><rect x="682" y="651" width="1" height="92"/><rect x="690" y="651" width="1" height="90"/><rect x="698" y="651" width="1" height="84"/><rect x="706" y="651" width="1" height="70"/><rect x="714" y="651" width="1" height="56"/><rect x="722" y="651" width="1" height="45"/><rect x="730" y="651" width="1" height="35"/><rect x="738" y="651" width="1" height="28"/><rect x="746" y="651" width="1" height="22"/><rect x="754" y="651" width="1" height="16"/><rect x="762" y="651" width="1" height="11"/><rect x="770" y="651" width="1" height="6"/><rect x="778" y="651" width="1" height="2"/><rect x="786" y="648" width="1" height="4"/><rect x="794" y="646" width="1" height="6"/><rect x="802" y="645" width="1" height="7"/><rect x="810" y="646" width="1" height="6"/><rect x="818" y="646" width="1" height="6"/><rect x="826" y="644" width="1" height="8"/><rect x="834" y="643" width="1" height="9"/><rect x="842" y="641" width="1" height="11"/><rect x="850" y="638" width="1" height="14"/><rect x="858" y="633" width="1" height="19"/><rect x="866" y="627" width="1" height="25"/><rect x="874" y="621" width="1" height="31"/><rect x="882" y="619" width="1" height="33"/><rect x="890" y="618" width="1" height="34"/><rect x="898" y="613" width="1" height="39"/><rect x="906" y="610" width="1" height="42"/><rect x="914" y="608" width="1" height="44"/><rect x="922" y="605" width="1" height="47"/><rect x="930" y="604" width="1" height="48"/><rect x="938" y="605" width="1" height="47"/><rect x="946" y="607" width="1" height="45"/><rect x="954" y="613" width="1" height="39"/><rect x="962" y="617" width="1" height="35"/><rect x="970" y="621" width="1" height="31"/><rect x="978" y="625" width="1" height="27"/><rect x="986" y="627" width="1" height="25"/><rect x="994" y="628" width="1" height="24"/><rect x="1002" y="629" width="1" height="23"/><rect x="1010" y="632" width="1" height="20"/><rect x="1018" y="633" width="1" height="19"/><rect x="1026" y="634" width="1" height="18"/><rect x="1034" y="635" width="1" height="17"/><rect x="1042" y="638" width="1" height="14"/><rect x="1050" y="636" width="1" height="16"/><rect x="1058" y="633" width="1" height="19"/><rect x="1066" y="629" width="1" height="23"/><rect x="1074" y="626" width="1" height="26"/><rect x="1082" y="623" width="1" height="29"/><rect x="1090" y="622" width="1" height="30"/><rect x="1098" y="622" width="1" height="30"/><rect x="1106" y="620" width="1" height="32"/><rect x="1114" y="620" width="1" height="32"/><rect x="1122" y="619" width="1" height="33"/><rect x="1130" y="618" width="1" height="34"/><rect x="1138" y="620" width="1" height="32"/><rect x="1146" y="619" width="1" height="33"/><rect x="1154" y="616" width="1" height="36"/><rect x="1162" y="615" width="1" height="37"/><rect x="1170" y="615" width="1" height="37"/><rect x="1178" y="616" width="1" height="36"/><rect x="1186" y="618" width="1" height="34"/><rect x="1194" y="616" width="1" height="36"/><rect x="1202" y="617" width="1" height="35"/><rect x="1210" y="616" width="1" height="36"/><rect x="1218" y="618" width="1" height="34"/><rect x="1226" y="618" width="1" height="34"/><rect x="1234" y="620" width="1" height="32"/><rect x="1242" y="623" width="1" height="29"/><rect x="1250" y="632" width="1" height="20"/><rect x="1258" y="638" width="1" height="14"/><rect x="1266" y="643" width="1" height="9"/><rect x="1274" y="647" width="1" height="5"/><rect x="1282" y="650" width="1" height="2"/><rect x="1290" y="650" width="1" height="2"/><rect x="1298" y="650" width="1" height="2"/><rect x="1306" y="649" width="1" height="3"/><rect x="1314" y="648" width="1" height="4"/><rect x="1322" y="650" width="1" height="2"/><rect x="1330" y="651" width="1" height="6"/><rect x="1338" y="651" width="1" height="15"/><rect x="1346" y="651" width="1" height="16"/><rect x="1354" y="651" width="1" height="18"/><rect x="1362" y="651" width="1" height="19"/><rect x="1370" y="651" width="1" height="22"/><rect x="1378" y="651" width="1" height="16"/><rect x="1386" y="651" width="1" height="12"/><rect x="1394" y="651" width="1" height="6"/><rect x="1402" y="650" width="1" height="2"/><rect x="1410" y="640" width="1" height="12"/></g><polyline points="0.0,631.0 25.0,633.0 75.0,634.0 100.0,639.0 150.0,645.0 167.6,644.1 180.0,643.2 203.0,638.8 217.0,637.4 236.5,637.4 247.0,638.8 264.7,642.4 289.4,647.3 308.8,649.8 326.5,652.0 344.1,655.0 370.6,658.2 402.3,660.9 425.0,661.2 450.0,660.5 500.0,662.5 525.0,666.2 550.0,671.2 575.0,678.8 600.0,690.0 625.0,701.2 650.0,708.8 675.0,718.8 700.0,728.8 712.5,729.5 737.5,716.2 762.5,690.0 787.5,665.0 812.5,652.5 850.0,643.5 875.0,637.5 900.0,626.2 925.0,615.0 945.0,609.5 967.5,608.0 975.0,610.0 1000.0,617.5 1025.0,626.2 1050.0,631.2 1075.0,632.5 1100.0,628.0 1125.0,622.5 1162.5,617.0 1200.0,616.2 1237.5,617.0 1275.0,627.5 1300.0,638.8 1325.0,646.2 1337.5,651.2 1350.0,653.8 1375.0,661.2 1395.0,664.5 1410.0,661.2" fill="none" stroke="#ff0000" stroke-width="1" stroke-dasharray="3,2" shape-rendering="crispEdges"/><line x1="1369" y1="676" x2="1406.1" y2="649.0" stroke="#ff0000" stroke-width="3"/><polygon points="1415,642.5 1408.5,652.3 1403.7,645.6" fill="#ff0000"/></g><text x="0" y="608.5" font-family='"Liberation Sans", sans-serif' font-size="10" fill="#000" textLength="119" lengthAdjust="spacingAndGlyphs">MACD(12,26,9) 37.19 -33.22</text><g font-family='"Liberation Sans", sans-serif' font-size="9.5" fill="#000"><rect x="1653" y="598" width="3" height="1" fill="#000"/><text x="1656" y="606" textLength="23" lengthAdjust="spacingAndGlyphs">179.1</text><rect x="1653" y="651" width="3" height="1" fill="#000"/><text x="1656" y="655.5" textLength="18.5" lengthAdjust="spacingAndGlyphs">0.00</text><rect x="1653" y="750" width="3" height="1" fill="#000"/><text x="1656" y="748" textLength="31" lengthAdjust="spacingAndGlyphs">-329.19</text></g><g clip-path="url(#crsi)"><line x1="0" y1="789.5" x2="1652" y2="789.5" stroke="#c0c0c0" stroke-dasharray="3,3" shape-rendering="crispEdges"/><line x1="0" y1="840.5" x2="1652" y2="840.5" stroke="#c0c0c0" stroke-dasharray="3,3" shape-rendering="crispEdges"/><line x1="0" y1="901.5" x2="1652" y2="901.5" stroke="#c0c0c0" stroke-dasharray="3,3" shape-rendering="crispEdges"/><polyline points="0.0,803.8 2.5,804.5 10.0,822.5 18.0,833.8 26.2,836.2 34.2,833.2 42.0,835.0 50.0,830.5 58.0,826.2 66.2,831.2 74.2,830.0 82.0,831.2 90.0,841.2 98.2,860.0 106.2,831.2 114.2,838.0 122.5,840.0 130.5,835.5 138.2,838.8 146.2,840.0 154.2,828.8 162.5,822.5 170.5,823.8 178.2,819.2 186.2,826.2 194.2,827.5 202.5,819.5 210.5,841.2 218.8,841.2 226.2,843.0 234.5,845.0 242.5,845.0 250.5,842.5 258.8,842.5 266.8,844.5 274.5,843.8 282.5,844.5 290.5,846.2 298.8,844.5 306.2,848.0 314.5,865.0 322.5,860.0 330.8,855.5 338.8,857.5 346.2,855.0 354.5,840.5 362.5,856.2 370.0,857.5 378.8,852.5 386.2,853.0 394.5,842.0 402.5,859.5 410.5,849.5 418.0,851.2 426.0,845.5 435.0,844.5 442.0,842.5 450.0,851.2 458.2,872.0 466.2,852.0 474.2,855.0 482.5,847.5 490.5,846.2 498.2,849.5 506.2,866.2 514.2,857.5 522.5,866.2 530.5,866.2 538.2,868.0 546.2,868.0 554.2,862.5 562.5,880.5 570.5,885.0 578.2,885.0 586.2,887.0 594.2,880.0 602.5,888.0 610.5,880.0 618.2,879.5 626.2,875.0 634.5,878.8 642.5,884.5 650.0,893.8 658.8,898.0 666.2,897.5 674.5,898.0 682.5,903.0 690.5,867.5 698.2,861.2 706.8,840.0 714.5,836.2 722.5,834.5 730.5,832.0 738.8,838.0 746.8,835.0 754.5,836.2 762.5,832.0 770.8,830.0 778.8,827.5 786.8,829.5 794.5,831.2 802.5,836.2 810.8,841.2 818.8,836.2 826.8,832.0 834.5,831.2 842.5,825.5 850.0,822.2 855.0,818.0 861.2,812.0 867.5,808.0 873.8,806.2 882.5,814.5 890.0,814.5 898.0,805.5 906.2,803.8 914.5,803.0 922.5,800.5 931.2,808.0 938.8,812.0 946.2,815.5 954.5,835.0 962.5,833.0 970.5,833.0 978.8,837.5 986.2,828.8 994.5,828.8 1002.5,826.2 1010.8,835.5 1018.8,830.5 1027.0,830.5 1035.0,833.8 1042.5,838.8 1051.2,820.5 1059.2,813.8 1067.0,809.5 1074.5,809.5 1082.5,805.5 1090.5,811.2 1098.8,814.5 1106.8,808.8 1114.5,812.5 1122.5,808.8 1130.5,808.8 1138.8,815.5 1146.2,805.5 1154.5,802.5 1162.5,806.2 1170.5,808.8 1178.8,812.5 1186.2,815.5 1194.5,808.0 1202.5,804.5 1210.5,812.0 1218.8,808.8 1226.2,808.8 1235.0,819.5 1242.5,825.0 1250.5,863.0 1258.8,848.0 1266.8,855.5 1275.0,848.8 1282.5,845.0 1290.0,842.0 1297.5,839.5 1306.2,833.0 1313.8,834.5 1322.5,843.8 1330.5,867.5 1338.2,875.5 1346.2,851.2 1354.5,851.2 1362.5,852.5 1370.5,858.0 1378.8,841.2 1386.2,831.2 1394.5,821.2 1402.5,820.0 1410.0,819.5" fill="none" stroke="#1e90ff" stroke-width="1" shape-rendering="crispEdges"/><line x1="1329" y1="877.5" x2="1407.1" y2="820.0" stroke="#ff0000" stroke-width="3"/><polygon points="1416,813.5 1409.6,823.3 1404.7,816.7" fill="#ff0000"/></g><text x="0" y="766.5" font-family='"Liberation Sans", sans-serif' font-size="10" fill="#000" textLength="65.5" lengthAdjust="spacingAndGlyphs">RSI(14) 62.2783</text><g font-family='"Liberation Sans", sans-serif' font-size="9.5" fill="#000"><rect x="1653" y="755" width="3" height="1" fill="#000"/><text x="1656.5" y="764" textLength="14.5" lengthAdjust="spacingAndGlyphs">100</text><rect x="1653" y="789" width="3" height="1" fill="#000"/><text x="1656.5" y="793" textLength="10" lengthAdjust="spacingAndGlyphs">80</text><rect x="1653" y="840" width="3" height="1" fill="#000"/><text x="1656.5" y="844" textLength="10" lengthAdjust="spacingAndGlyphs">50</text><rect x="1653" y="901" width="3" height="1" fill="#000"/><text x="1656.5" y="905" textLength="10" lengthAdjust="spacingAndGlyphs">15</text><rect x="1653" y="921" width="3" height="1" fill="#000"/><text x="1656.5" y="924.5" textLength="5" lengthAdjust="spacingAndGlyphs">0</text></g><g font-family='"Liberation Sans", sans-serif' font-size="9.5" fill="#000"><text x="1" y="940" textLength="36.5" lengthAdjust="spacingAndGlyphs">Jun 2021</text><rect x="58" y="928" width="1" height="4" fill="#000" shape-rendering="crispEdges"/><text x="57" y="940" textLength="47.4" lengthAdjust="spacingAndGlyphs">2 Jun 12:00</text><rect x="122" y="928" width="1" height="4" fill="#000" shape-rendering="crispEdges"/><text x="121" y="940" textLength="47.4" lengthAdjust="spacingAndGlyphs">3 Jun 20:00</text><rect x="186" y="928" width="1" height="4" fill="#000" shape-rendering="crispEdges"/><text x="185" y="940" textLength="47.4" lengthAdjust="spacingAndGlyphs">7 Jun 00:00</text><rect x="250" y="928" width="1" height="4" fill="#000" shape-rendering="crispEdges"/><text x="249" y="940" textLength="47.4" lengthAdjust="spacingAndGlyphs">8 Jun 08:00</text><rect x="314" y="928" width="1" height="4" fill="#000" shape-rendering="crispEdges"/><text x="313" y="940" textLength="47.4" lengthAdjust="spacingAndGlyphs">9 Jun 16:00</text><rect x="378" y="928" width="1" height="4" fill="#000" shape-rendering="crispEdges"/><text x="377" y="940" textLength="51.7" lengthAdjust="spacingAndGlyphs">11 Jun 00:00</text><rect x="442" y="928" width="1" height="4" fill="#000" shape-rendering="crispEdges"/><text x="441" y="940" textLength="51.7" lengthAdjust="spacingAndGlyphs">14 Jun 04:00</text><rect x="506" y="928" width="1" height="4" fill="#000" shape-rendering="crispEdges"/><text x="505" y="940" textLength="51.7" lengthAdjust="spacingAndGlyphs">15 Jun 12:00</text><rect x="570" y="928" width="1" height="4" fill="#000" shape-rendering="crispEdges"/><text x="569" y="940" textLength="51.7" lengthAdjust="spacingAndGlyphs">16 Jun 20:00</text><rect x="634" y="928" width="1" height="4" fill="#000" shape-rendering="crispEdges"/><text x="633" y="940" textLength="51.7" lengthAdjust="spacingAndGlyphs">18 Jun 04:00</text><rect x="698" y="928" width="1" height="4" fill="#000" shape-rendering="crispEdges"/><text x="697" y="940" textLength="51.7" lengthAdjust="spacingAndGlyphs">21 Jun 08:00</text><rect x="762" y="928" width="1" height="4" fill="#000" shape-rendering="crispEdges"/><text x="761" y="940" textLength="51.7" lengthAdjust="spacingAndGlyphs">22 Jun 16:00</text><rect x="826" y="928" width="1" height="4" fill="#000" shape-rendering="crispEdges"/><text x="825" y="940" textLength="51.7" lengthAdjust="spacingAndGlyphs">24 Jun 00:00</text><rect x="890" y="928" width="1" height="4" fill="#000" shape-rendering="crispEdges"/><text x="889" y="940" textLength="51.7" lengthAdjust="spacingAndGlyphs">25 Jun 08:00</text><rect x="954" y="928" width="1" height="4" fill="#000" shape-rendering="crispEdges"/><text x="953" y="940" textLength="51.7" lengthAdjust="spacingAndGlyphs">28 Jun 12:00</text><rect x="1018" y="928" width="1" height="4" fill="#000" shape-rendering="crispEdges"/><text x="1017" y="940" textLength="51.7" lengthAdjust="spacingAndGlyphs">29 Jun 20:00</text><rect x="1082" y="928" width="1" height="4" fill="#000" shape-rendering="crispEdges"/><text x="1081" y="940" textLength="47.4" lengthAdjust="spacingAndGlyphs">1 Jul 04:00</text><rect x="1146" y="928" width="1" height="4" fill="#000" shape-rendering="crispEdges"/><text x="1145" y="940" textLength="47.4" lengthAdjust="spacingAndGlyphs">2 Jul 12:00</text><rect x="1210" y="928" width="1" height="4" fill="#000" shape-rendering="crispEdges"/><text x="1209" y="940" textLength="47.4" lengthAdjust="spacingAndGlyphs">5 Jul 16:00</text><rect x="1274" y="928" width="1" height="4" fill="#000" shape-rendering="crispEdges"/><text x="1273" y="940" textLength="47.4" lengthAdjust="spacingAndGlyphs">7 Jul 00:00</text><rect x="1338" y="928" width="1" height="4" fill="#000" shape-rendering="crispEdges"/><text x="1337" y="940" textLength="47.4" lengthAdjust="spacingAndGlyphs">8 Jul 08:00</text><rect x="1402" y="928" width="1" height="4" fill="#000" shape-rendering="crispEdges"/><text x="1401" y="940" textLength="47.4" lengthAdjust="spacingAndGlyphs">9 Jul 16:00</text></g><rect x="1697" y="24" width="3" height="918" fill="#f0f0f0"/><rect x="1698" y="24" width="1" height="918" fill="#d8d8d8"/></svg>
<svg class="abs" width="1700" height="24" style="left:0;top:0"><rect x="0" y="0" width="1700" height="22" fill="#f0f0f0"/><rect x="0" y="22" width="1700" height="1" fill="#a8a8a8"/><rect x="0" y="23" width="1700" height="1" fill="#6a6a6a"/><circle cx="-0.5" cy="10.5" r="3.5" fill="#cfe6f7" stroke="#3a7fd0" stroke-width="1.2"/><path d="M1.5 14 L5 18.5" stroke="#c9a227" stroke-width="2.2"/><rect x="13" y="1" width="1" height="19" fill="#a0a0a0"/><rect x="14" y="1" width="1" height="19" fill="#fafafa"/><path d="M23.5 2.5 H32 L34.5 5 V15.5 H23.5Z" fill="#fff" stroke="#666"/><rect x="25" y="4.3" width="2.7" height="1.2" fill="#888"/><path d="M25 8.5 H31 M25 10.5 H30 M25 12.5 H28" stroke="#888" stroke-width="0.8"/><defs><linearGradient id="gpl" x1="0" y1="0" x2="0" y2="1"><stop offset="0" stop-color="#7cf07c"/><stop offset="1" stop-color="#10b010"/></linearGradient></defs><path d="M31.2 8.3 H34.8 V12.2 H38.6 V15.8 H34.8 V19.6 H31.2 V15.8 H27.3 V12.2 H31.2Z" fill="url(#gpl)" stroke="#0a8a0a" stroke-width="0.7"/><text x="42" y="12.8" font-family='"Liberation Sans", sans-serif' font-size="12" fill="#000" stroke="#000" stroke-width="0.25" textLength="36" lengthAdjust="spacingAndGlyphs">新订单</text><defs><linearGradient id="ggold" x1="0" y1="0" x2="1" y2="1"><stop offset="0" stop-color="#fff0a0"/><stop offset="0.5" stop-color="#e8c030"/><stop offset="1" stop-color="#c09010"/></linearGradient></defs><path d="M90.3 11.6 L95.6 3 Q97 2.6 98 3.6 L105.6 11.4 L97.6 17.2 Z" fill="url(#ggold)" stroke="#9a6a10" stroke-width="0.8"/><path d="M90.5 11.8 L97.6 17.3 L105.5 11.6 L105.8 13 L97.8 18.2 L90.6 13 Z" fill="#a8700c"/><path d="M120 4 L122.5 2 H130.3 V11 H120Z" fill="#1a78d8"/><path d="M122.5 4 H130.3 V11 H122.5Z" fill="#40a8f8"/><path d="M120 4 L122.5 2 V11 H120Z" fill="#2a88e8"/><path d="M124 7 H129" stroke="#e8f4ff" stroke-width="1"/><defs><linearGradient id="gcl" x1="0" y1="0" x2="0" y2="1"><stop offset="0" stop-color="#ffffff"/><stop offset="1" stop-color="#c8d0dc"/></linearGradient></defs><path d="M119.5 17.6 Q117.3 17.3 118 15 Q118.6 13.2 120.8 13.4 Q121.8 10.2 125.5 10.4 Q128.5 10.4 129.5 12.8 Q132 12.3 133 14.3 Q134.8 15.5 133.3 17.6Z" fill="url(#gcl)" stroke="#5a78a8" stroke-width="0.8"/><circle cx="153.8" cy="9.8" r="7.6" fill="#eef2ee" stroke="#a8c0e8" stroke-width="0.9"/><path d="M153.8 17.4 A7.6 7.6 0 0 0 161.4 9.8" fill="none" stroke="#78b878" stroke-width="1.2"/><circle cx="153.8" cy="9.8" r="5.2" fill="none" stroke="#6a90d8" stroke-width="0.9"/><path d="M153.8 15 A5.2 5.2 0 0 0 159 9.8" fill="none" stroke="#88c088" stroke-width="1"/><circle cx="153.8" cy="9.8" r="2.7" fill="none" stroke="#4a72c8" stroke-width="0.9"/><circle cx="153.8" cy="9.8" r="1.3" fill="#1a4ac0"/><path d="M154.2 10 V17.6" stroke="#18a018" stroke-width="1.1"/><path d="M173.5 8 L189 8.3 L186 15 L180 17.5Z" fill="#f4e070" stroke="#c8a020" stroke-width="0.7"/><ellipse cx="181" cy="6.6" rx="7.8" ry="2.4" fill="#4a98d8" stroke="#2a6aa8" stroke-width="0.6"/><ellipse cx="181" cy="5" rx="4.2" ry="3" fill="#78c0f0" stroke="#3a80c0" stroke-width="0.5"/><circle cx="185.3" cy="13.6" r="4" fill="#d01808" stroke="#a01000" stroke-width="0.5"/><rect x="183.8" y="12.1" width="3" height="3" fill="#fff"/><text x="194.5" y="12.9" font-family='"Liberation Sans", sans-serif' font-size="12" fill="#000" stroke="#000" stroke-width="0.25" textLength="46.5" lengthAdjust="spacingAndGlyphs">自动交易</text><rect x="249" y="1" width="1" height="19" fill="#a0a0a0"/><rect x="250" y="1" width="1" height="19" fill="#fafafa"/><rect x="253" y="2" width="3" height="1" fill="#a8a8a8"/><rect x="253" y="4" width="3" height="1" fill="#a8a8a8"/><rect x="253" y="6" width="3" height="1" fill="#a8a8a8"/><rect x="253" y="8" width="3" height="1" fill="#a8a8a8"/><rect x="253" y="10" width="3" height="1" fill="#a8a8a8"/><rect x="253" y="12" width="3" height="1" fill="#a8a8a8"/><rect x="253" y="14" width="3" height="1" fill="#a8a8a8"/><rect x="253" y="16" width="3" height="1" fill="#a8a8a8"/><rect x="253" y="18" width="3" height="1" fill="#a8a8a8"/><g fill="none" stroke="#555" stroke-width="1.3"><path d="M268.0 3.5 V18.0 M265.5 15.5 H278.5"/></g><path d="M266.0 5.5 L268.0 2.5 L270.0 5.5Z M276.5 13.5 L279.5 15.5 L276.5 17.5Z" fill="#555"/><path d="M273.5 5.5 V13.5 M273.5 6 H276 M271 13 H273.5" stroke="#0a8a0a" stroke-width="1.3" fill="none"/><rect x="287" y="1" width="1" height="19" fill="#a0a0a0"/><rect x="288" y="1" width="1" height="19" fill="#fafafa"/><rect x="289" y="0" width="23" height="20" fill="#f7f7f7"/><g fill="none" stroke="#555" stroke-width="1.3"><path d="M296.0 3.5 V18.0 M293.5 15.5 H306.5"/></g><path d="M294.0 5.5 L296.0 2.5 L298.0 5.5Z M304.5 13.5 L307.5 15.5 L304.5 17.5Z" fill="#555"/><rect x="299.3" y="4.3" width="4.2" height="7.3" fill="#40e040" stroke="#0a8a0a" stroke-width="0.9"/><path d="M301.4 2 V4.3 M301.4 11.6 V14" stroke="#0a8a0a" stroke-width="1"/><g fill="none" stroke="#555" stroke-width="1.3"><path d="M324.0 3.5 V18.0 M321.5 15.5 H334.5"/></g><path d="M322.0 5.5 L324.0 2.5 L326.0 5.5Z M332.5 13.5 L335.5 15.5 L332.5 17.5Z" fill="#555"/><path d="M322 12.5 Q326 5 328.5 7 Q331 9 334 11" fill="none" stroke="#1a9a1a" stroke-width="1.1"/><rect x="344" y="1" width="1" height="19" fill="#a0a0a0"/><rect x="345" y="1" width="1" height="19" fill="#fafafa"/><path d="M362.5 12 L367.5 17" stroke="#9a7a10" stroke-width="3"/><path d="M362.5 12 L367.5 17" stroke="#e8c840" stroke-width="1.6"/><circle cx="358.5" cy="7.8" r="5.2" fill="#d8ecfa" stroke="#2a72d0" stroke-width="1.2"/><path d="M355.5 7.8 H361.5" stroke="#3c82b8" stroke-width="1.8"/><path d="M358.5 4.8 V10.8" stroke="#3c82b8" stroke-width="1.8"/><path d="M390.5 12 L395.5 17" stroke="#9a7a10" stroke-width="3"/><path d="M390.5 12 L395.5 17" stroke="#e8c840" stroke-width="1.6"/><circle cx="386.5" cy="7.8" r="5.2" fill="#d8ecfa" stroke="#2a72d0" stroke-width="1.2"/><path d="M383.5 7.8 H389.5" stroke="#3c82b8" stroke-width="1.8"/><rect x="409.5" y="2.5" width="7" height="7" fill="#40a040" stroke="#1a701a" stroke-width="0.8"/><rect x="417.5" y="2.5" width="7" height="7" fill="#2a6ad8" stroke="#1a4aa0" stroke-width="0.8"/><rect x="409.5" y="10.5" width="7" height="7" fill="#2a6ad8" stroke="#1a4aa0" stroke-width="0.8"/><rect x="417.5" y="10.5" width="7" height="7" fill="#40a040" stroke="#1a701a" stroke-width="0.8"/><path d="M411 5.5 H415 M419 5.5 H423 M411 13.5 H415 M419 13.5 H423" stroke="#fff" stroke-width="1"/><rect x="434" y="1" width="1" height="19" fill="#a0a0a0"/><rect x="435" y="1" width="1" height="19" fill="#fafafa"/><rect x="439" y="1" width="1" height="19" fill="#a0a0a0"/><rect x="440" y="1" width="1" height="19" fill="#fafafa"/><rect x="441" y="0" width="23" height="20" fill="#f4f4f4"/><g fill="none" stroke="#555" stroke-width="1.3"><path d="M448.0 3.5 V18.0 M445.5 15.5 H458.5"/></g><path d="M446.0 5.5 L448.0 2.5 L450.0 5.5Z M456.5 13.5 L459.5 15.5 L456.5 17.5Z" fill="#555"/><path d="M451.5 5.5 V11.5 L456 8.5Z" fill="#3ab03a" stroke="#0a8a0a" stroke-width="0.8"/><rect x="469" y="0" width="22" height="20" fill="#f4f4f4"/><g fill="none" stroke="#555" stroke-width="1.3"><path d="M476.0 3.5 V18.0 M473.5 15.5 H486.5"/></g><path d="M474.0 5.5 L476.0 2.5 L478.0 5.5Z M484.5 13.5 L487.5 15.5 L484.5 17.5Z" fill="#555"/><path d="M480.5 4 V13" stroke="#2060c0" stroke-width="1"/><path d="M486 8.5 H482 M484 6.5 L482 8.5 L484 10.5" stroke="#e05010" stroke-width="1.2" fill="none"/><rect x="496" y="1" width="1" height="19" fill="#a0a0a0"/><rect x="497" y="1" width="1" height="19" fill="#fafafa"/><path d="M506.5 3.5 H513 L515.5 6 V15.5 H506.5Z" fill="#fff" stroke="#777"/><path d="M508.5 6 H511 V13 H508.5" stroke="#888" fill="none"/><path d="M513 8.5 H517 V12 H521 V16 H517 V19.5 H513 V16 H509 V12 H513Z" fill="#22c322" stroke="#118811" stroke-width="0.8"/><path d="M527 9 H533 L530 12Z" fill="#000"/><circle cx="552" cy="10" r="7.3" fill="#1a6ad0" stroke="#0a4aa0" stroke-width="0.8"/><circle cx="552" cy="10" r="5" fill="#f8f8f0"/><path d="M552 7 V10 H554.5" stroke="#333" stroke-width="1" fill="none"/><path d="M566 9 H572 L569 12Z" fill="#000"/><rect x="583.5" y="3.5" width="15" height="13" fill="#fff" stroke="#2a6ad0" stroke-width="1"/><rect x="584" y="4" width="14" height="2" fill="#3a7ad8"/><path d="M585 9.5 L588 8.5 L591 9.5 L594 8 L597 8.5" stroke="#c03020" fill="none" stroke-width="0.9"/><path d="M585 14 L588 12.5 L591 13.5 L594 12 L597 13" stroke="#20a020" fill="none" stroke-width="0.9"/><path d="M605 9 H611 L608 12Z" fill="#000"/><rect x="617" y="1" width="1" height="19" fill="#a0a0a0"/><rect x="618" y="1" width="1" height="19" fill="#fafafa"/><rect x="621" y="2" width="3" height="1" fill="#a8a8a8"/><rect x="621" y="4" width="3" height="1" fill="#a8a8a8"/><rect x="621" y="6" width="3" height="1" fill="#a8a8a8"/><rect x="621" y="8" width="3" height="1" fill="#a8a8a8"/><rect x="621" y="10" width="3" height="1" fill="#a8a8a8"/><rect x="621" y="12" width="3" height="1" fill="#a8a8a8"/><rect x="621" y="14" width="3" height="1" fill="#a8a8a8"/><rect x="621" y="16" width="3" height="1" fill="#a8a8a8"/><rect x="621" y="18" width="3" height="1" fill="#a8a8a8"/><rect x="627" y="1" width="1" height="19" fill="#a0a0a0"/><rect x="628" y="1" width="1" height="19" fill="#fafafa"/><rect x="629" y="0" width="23" height="20" fill="#f4f4f4"/><path d="M634.5 3 L643 11 L639.5 11.5 L641.5 16 L639.5 17 L637.5 12.5 L634.5 15Z" fill="#555"/><path d="M667.5 4 V17 M660.5 10.5 H674.5" stroke="#555" stroke-width="1.1"/><rect x="666.5" y="9.5" width="2" height="2" fill="#f0f0f0"/><rect x="684" y="1" width="1" height="19" fill="#a0a0a0"/><rect x="685" y="1" width="1" height="19" fill="#fafafa"/><path d="M701.5 4 V17" stroke="#555" stroke-width="1.1"/><path d="M723.5 10.5 H736" stroke="#555" stroke-width="1.1"/><path d="M751.5 16.5 L764 5" stroke="#555" stroke-width="1.1"/><path d="M778 14 L790 3 M780 16 L792 5 M779 8 L787 10 M781 12 L789 14" stroke="#555" stroke-width="1" fill="none"/><text x="788.5" y="18.5" font-family='"Liberation Sans", sans-serif' font-size="6.5" font-weight="bold" fill="#444">E</text><path d="M807 3.5 H821 M807 6.5 H821 M807 9.5 H821 M807 12.5 H821" stroke="#666" stroke-width="0.9" stroke-dasharray="1,1"/><text x="816" y="18.5" font-family='"Liberation Sans", sans-serif' font-size="6.5" font-weight="bold" fill="#444">F</text><text x="837.5" y="15.5" font-family='"Liberation Sans", sans-serif' font-size="12" font-weight="bold" fill="#555">A</text><rect x="863.5" y="3.5" width="13" height="13" fill="none" stroke="#666" stroke-width="0.9" stroke-dasharray="1,1"/><path d="M866 6.5 H874 M870 6.5 V14.5" stroke="#555" stroke-width="1.6"/><path d="M892 7 L895 4 L898 7Z M899 13 L902 16 L905 13Z" fill="#555"/><path d="M895 7 V10 L899 13 M902 13 V10" stroke="#555" stroke-width="1.2" fill="none"/><path d="M911 9 H917 L914 12Z" fill="#000"/><rect x="923" y="1" width="1" height="19" fill="#a0a0a0"/><rect x="924" y="1" width="1" height="19" fill="#fafafa"/><rect x="927" y="2" width="3" height="1" fill="#a8a8a8"/><rect x="927" y="4" width="3" height="1" fill="#a8a8a8"/><rect x="927" y="6" width="3" height="1" fill="#a8a8a8"/><rect x="927" y="8" width="3" height="1" fill="#a8a8a8"/><rect x="927" y="10" width="3" height="1" fill="#a8a8a8"/><rect x="927" y="12" width="3" height="1" fill="#a8a8a8"/><rect x="927" y="14" width="3" height="1" fill="#a8a8a8"/><rect x="927" y="16" width="3" height="1" fill="#a8a8a8"/><rect x="927" y="18" width="3" height="1" fill="#a8a8a8"/><rect x="1073" y="0" width="25" height="20" fill="#f7f7f7"/><rect x="1073" y="1" width="1" height="19" fill="#a0a0a0"/><text x="938.5" y="14.1" font-family='"Liberation Sans", sans-serif' font-size="10" fill="#333" textLength="12.8" lengthAdjust="spacingAndGlyphs">M1</text><text x="966.5" y="14.1" font-family='"Liberation Sans", sans-serif' font-size="10" fill="#333" textLength="12.8" lengthAdjust="spacingAndGlyphs">M5</text><text x="992.5" y="14.1" font-family='"Liberation Sans", sans-serif' font-size="10" fill="#333" textLength="17.8" lengthAdjust="spacingAndGlyphs">M15</text><text x="1020.5" y="14.1" font-family='"Liberation Sans", sans-serif' font-size="10" fill="#333" textLength="17.8" lengthAdjust="spacingAndGlyphs">M30</text><text x="1051.5" y="14.1" font-family='"Liberation Sans", sans-serif' font-size="10" fill="#333" textLength="11.8" lengthAdjust="spacingAndGlyphs">H1</text><text x="1078" y="14.1" font-family='"Liberation Sans", sans-serif' font-size="10" fill="#333" textLength="13" lengthAdjust="spacingAndGlyphs">H4</text><text x="1107.5" y="14.1" font-family='"Liberation Sans", sans-serif' font-size="10" fill="#333" textLength="11.8" lengthAdjust="spacingAndGlyphs">D1</text><text x="1135" y="14.1" font-family='"Liberation Sans", sans-serif' font-size="10" fill="#333" textLength="14.8" lengthAdjust="spacingAndGlyphs">W1</text><text x="1161.5" y="14.1" font-family='"Liberation Sans", sans-serif' font-size="10" fill="#333" textLength="14.8" lengthAdjust="spacingAndGlyphs">MN</text><rect x="1184" y="1" width="1" height="19" fill="#a0a0a0"/><rect x="1185" y="1" width="1" height="19" fill="#fafafa"/><circle cx="1654.5" cy="7.5" r="3.8" fill="none" stroke="#2a6ad0" stroke-width="1.3"/><path d="M1652 10.5 L1647.5 15" stroke="#2a6ad0" stroke-width="2"/><ellipse cx="1677" cy="12.5" rx="5.5" ry="4.5" fill="#e8e8ee" stroke="#aaa" stroke-width="0.8"/><path d="M1674 16 L1673.5 19 L1677 16.5" fill="#e8e8ee" stroke="#aaa" stroke-width="0.6"/><circle cx="1685.5" cy="7.5" r="8" fill="#d83a20"/><text x="1685.5" y="11.8" font-family='"Liberation Sans", sans-serif' font-size="11" fill="#fff" text-anchor="middle">1</text></svg>
<svg class="abs" width="220" height="106" style="left:0;top:0"><defs><linearGradient id="gt" x1="0" y1="0" x2="0" y2="1"><stop offset="0" stop-color="#ff5a5a"/><stop offset="1" stop-color="#dc3030"/></linearGradient><linearGradient id="gb" x1="0" y1="0" x2="0" y2="1"><stop offset="0" stop-color="#de2c2c"/><stop offset="1" stop-color="#b00404"/></linearGradient><linearGradient id="gbtn" x1="0" y1="0" x2="0" y2="1"><stop offset="0" stop-color="#f2f2f2"/><stop offset="0.45" stop-color="#e6e6e6"/><stop offset="0.5" stop-color="#d8d8d8"/><stop offset="1" stop-color="#cfcfcf"/></linearGradient></defs><rect x="216" y="44" width="2" height="61" fill="#fff"/><rect x="0" y="44" width="218" height="2" fill="#fff"/><rect x="49" y="46" width="115" height="24" fill="#fff"/><rect x="51.5" y="46.5" width="111" height="21" fill="#fff" stroke="#a8a8b0" stroke-width="1"/><rect x="52.5" y="47.5" width="19" height="19" fill="url(#gbtn)" stroke="#c8c8cc"/><rect x="72" y="47" width="1" height="20" fill="#b0b0b8"/><rect x="141.5" y="47.5" width="19" height="19" fill="url(#gbtn)" stroke="#c8c8cc"/><rect x="140" y="47" width="1" height="20" fill="#b0b0b8"/><path d="M59 55 H64 L61.5 57.5Z" fill="#4a6ad0"/><path d="M148.5 57.5 H153.5 L151 55Z" fill="#4a6ad0"/><text x="136.5" y="61.5" font-family='"Liberation Sans", sans-serif' font-size="12.5" fill="#000" text-anchor="end" textLength="22.5" lengthAdjust="spacingAndGlyphs">1.00</text><rect x="0" y="46" width="49" height="25" fill="url(#gt)"/><rect x="0" y="46" width="49" height="1" fill="#b80000"/><rect x="48" y="46" width="1" height="24" fill="#b80000"/><rect x="1" y="69" width="44" height="1" fill="#8a0000"/><rect x="1" y="70" width="44" height="1" fill="#f06060"/><text x="9.3" y="62.3" font-family='"Liberation Sans", sans-serif' font-size="12.5" fill="#fff" textLength="25.7" lengthAdjust="spacingAndGlyphs">SELL</text><rect x="164" y="46" width="52" height="25" fill="url(#gt)"/><rect x="164" y="46" width="52" height="1" fill="#b80000"/><rect x="164" y="46" width="1" height="24" fill="#b80000"/><rect x="215" y="46" width="1" height="57" fill="#b80000"/><text x="177.6" y="62.2" font-family='"Liberation Sans", sans-serif' font-size="12.5" fill="#fff" textLength="23.1" lengthAdjust="spacingAndGlyphs">BUY</text><rect x="0" y="70" width="106" height="33" fill="url(#gb)"/><rect x="108" y="70" width="108" height="33" fill="url(#gb)"/><rect x="1" y="69" width="44" height="1" fill="#8a0000"/><rect x="1" y="70" width="44" height="1" fill="#f06060"/><rect x="168" y="69" width="44" height="1" fill="#8a0000"/><rect x="168" y="70" width="44" height="1" fill="#f06060"/><rect x="0" y="103" width="216" height="2" fill="#fff"/><rect x="0" y="102" width="216" height="1" fill="#a00000"/><rect x="106" y="70" width="2" height="33" fill="#fff"/><text x="13.4" y="98.2" font-family='"Liberation Sans", sans-serif' font-size="12.5" font-weight="bold" fill="#fff" textLength="34.2" lengthAdjust="spacingAndGlyphs">34758</text><rect x="52.1" y="94.3" width="4" height="3.8" fill="#fff"/><text x="59.8" y="98.2" font-family='"Liberation Sans", sans-serif' font-size="33.5" fill="#fff" textLength="14" lengthAdjust="spacingAndGlyphs">5</text><text x="123.6" y="98.2" font-family='"Liberation Sans", sans-serif' font-size="12.5" font-weight="bold" fill="#fff" textLength="34.2" lengthAdjust="spacingAndGlyphs">34767</text><rect x="162.3" y="94.3" width="4" height="3.8" fill="#fff"/><text x="170.0" y="98.2" font-family='"Liberation Sans", sans-serif' font-size="33.5" fill="#fff" textLength="14" lengthAdjust="spacingAndGlyphs">5</text></svg>
</div>
</body></html>
